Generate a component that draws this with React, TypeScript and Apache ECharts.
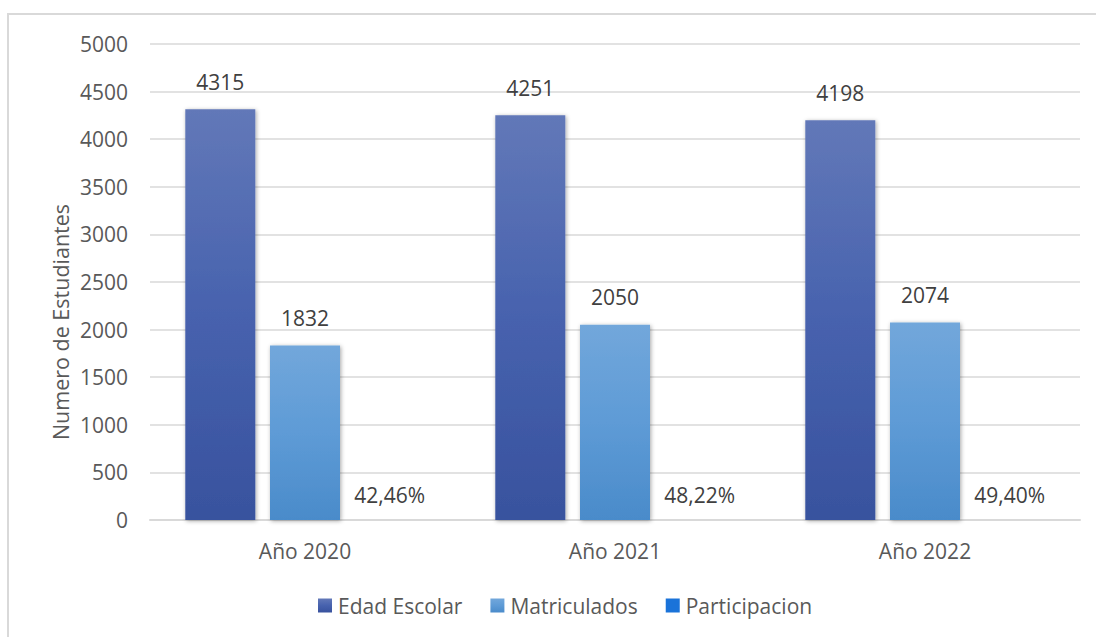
import React, { useEffect, useRef } from "react";
import * as echarts from "echarts";

const categories = ["Año 2020", "Año 2021", "Año 2022"];
const edadEscolar = [4315, 4251, 4198];
const matriculados = [1832, 2050, 2074];
const participacion = [0.4246, 0.4822, 0.494];
const seriesNames = ["Edad Escolar", "Matriculados", "Participacion"];
const yTicks = { min: 0, max: 5000, interval: 500 };

const FONT = "'Open Sans', 'Noto Sans', sans-serif";
const TXT = "#595959";
const FS = 21;

export default function App() {
  const ref = useRef<HTMLDivElement>(null);
  useEffect(() => {
    if (!ref.current) return;
    const chart = echarts.init(ref.current, null, { renderer: "svg" });
    const shadow = {
      shadowBlur: 4,
      shadowColor: "rgba(0,0,0,0.35)",
      shadowOffsetX: 1,
      shadowOffsetY: 1,
    };
    const labelCommon = {
      show: true,
      position: "top" as const,
      distance: 17,
      color: "#404040",
      fontSize: FS,
      fontFamily: FONT,
    };
    chart.setOption({
      animation: false,
      backgroundColor: "#ffffff",
      textStyle: { fontFamily: FONT },
      grid: { left: 150, right: 16, top: 44, bottom: 117, containLabel: false },
      graphic: [
        {
          type: "rect",
          shape: { x: 8, y: 14, width: 1200, height: 700 },
          style: { fill: "none", stroke: "#d9d9d9", lineWidth: 2 },
          silent: true,
        },
        {
          type: "text",
          x: 60,
          y: 322,
          rotation: Math.PI / 2,
          style: {
            text: "Numero de Estudiantes",
            fill: TXT,
            fontSize: 21.5,
            fontFamily: FONT,
            align: "center",
            verticalAlign: "middle",
          },
        },
      ],
      legend: {
        data: seriesNames,
        left: 313,
        top: 590,
        itemWidth: 14,
        itemHeight: 14,
        itemGap: 28,
        icon: "rect",
        textStyle: { color: TXT, fontSize: FS, fontFamily: FONT, padding: [0, 0, 0, 1] },
      },
      xAxis: {
        type: "category",
        data: categories,
        axisTick: { show: false },
        axisLine: { lineStyle: { color: "#d9d9d9", width: 2 } },
        axisLabel: { color: TXT, fontSize: FS, fontFamily: FONT, margin: 20 },
      },
      yAxis: {
        type: "value",
        min: yTicks.min,
        max: yTicks.max,
        interval: yTicks.interval,
        axisLine: { show: false },
        axisTick: { show: false },
        splitLine: { lineStyle: { color: "#d9d9d9", width: 1.5 } },
        axisLabel: {
          color: TXT,
          fontSize: FS,
          fontFamily: FONT,
          margin: 22,
          formatter: (v: number) => String(v),
        },
      },
      series: [
        {
          name: seriesNames[0],
          type: "bar",
          data: edadEscolar,
          barWidth: 70,
          barGap: "21%",
          itemStyle: {
            color: new echarts.graphic.LinearGradient(0, 0, 0, 1, [
              { offset: 0, color: "#6278b8" },
              { offset: 0.5, color: "#4762ae" },
              { offset: 1, color: "#38529e" },
            ]),
            ...shadow,
          },
          label: labelCommon,
        },
        {
          name: seriesNames[1],
          type: "bar",
          data: matriculados,
          barWidth: 70,
          itemStyle: {
            color: new echarts.graphic.LinearGradient(0, 0, 0, 1, [
              { offset: 0, color: "#72a7db" },
              { offset: 0.5, color: "#5e9bd6" },
              { offset: 1, color: "#4a8bca" },
            ]),
            ...shadow,
          },
          label: labelCommon,
        },
        {
          name: seriesNames[2],
          type: "bar",
          data: participacion,
          barWidth: 70,
          itemStyle: { color: "#1a73d9" },
          label: {
            ...labelCommon,
            distance: 14,
            formatter: (p: any) =>
              (p.value * 100).toFixed(2).replace(".", ",") + "%",
          },
        },
      ],
    });
    return () => chart.dispose();
  }, []);
  return (
    <div
      ref={ref}
      style={{ position: "absolute", left: 0, top: 0, width: 1096, height: 637 }}
    />
  );
}
